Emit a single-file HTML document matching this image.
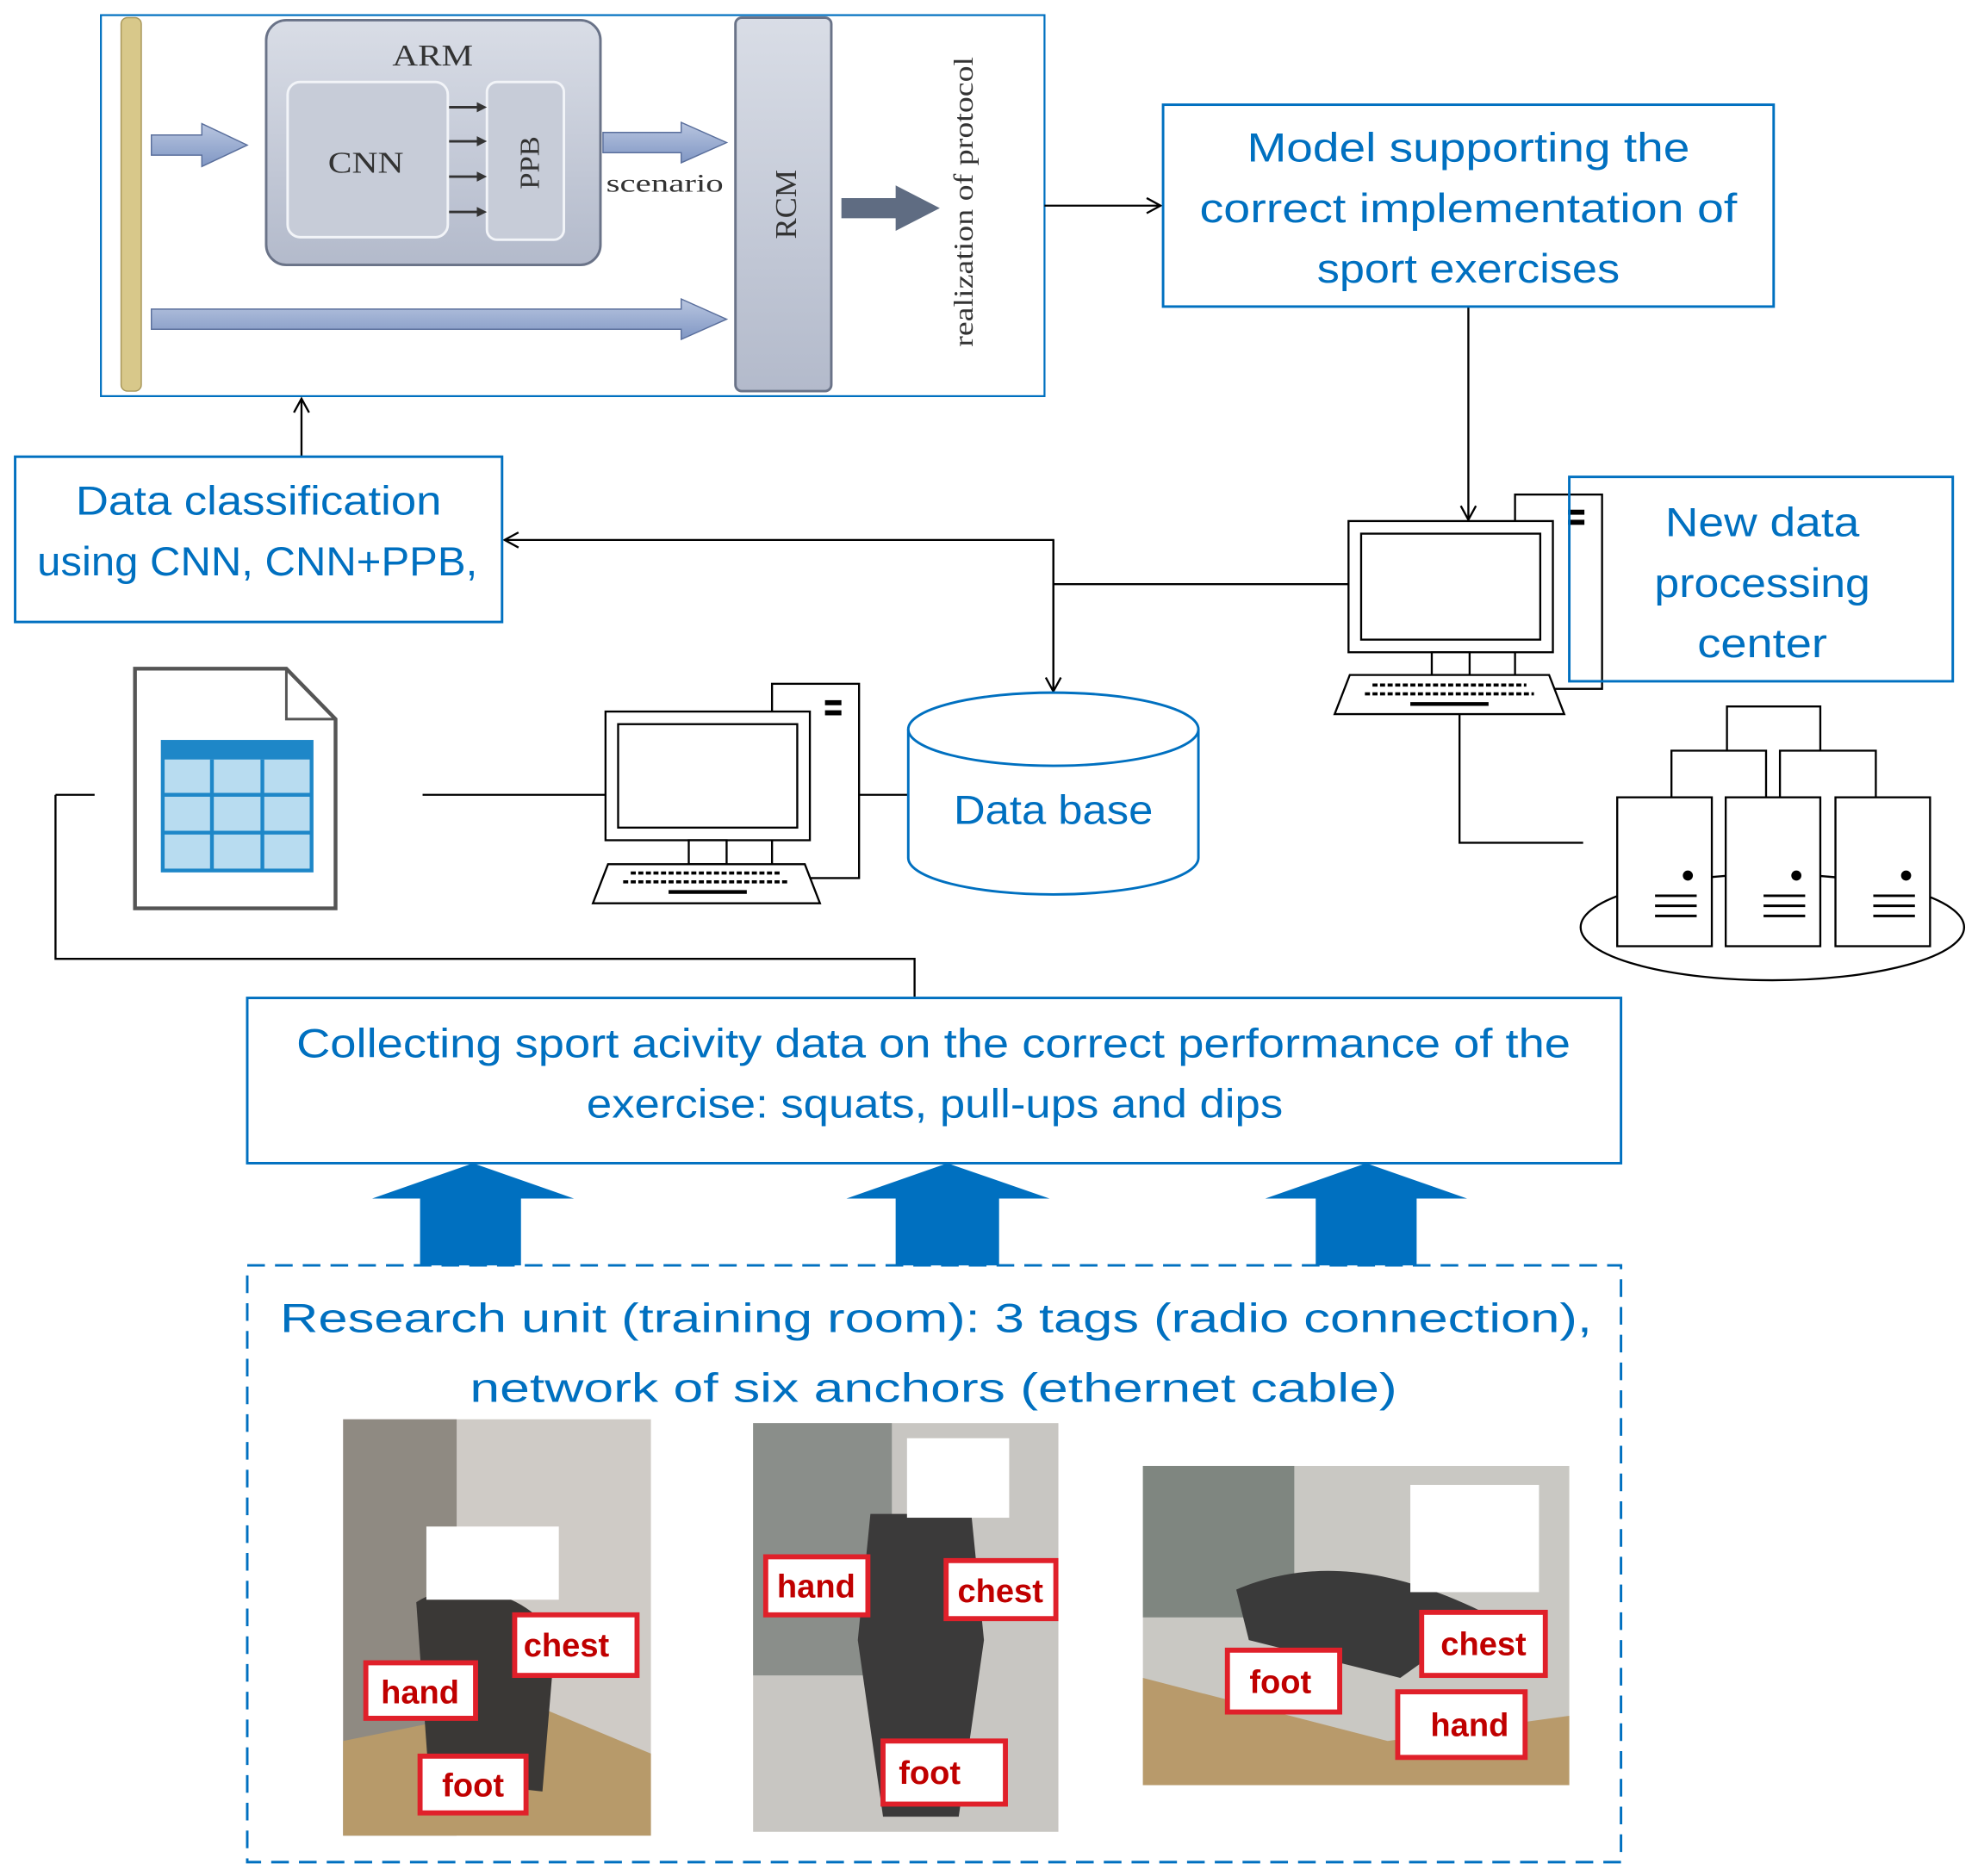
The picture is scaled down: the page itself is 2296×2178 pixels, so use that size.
<!DOCTYPE html>
<html><head><meta charset="utf-8"><style>
html,body{margin:0;padding:0;background:#fff}
svg{display:block}
text{font-family:"Liberation Sans",sans-serif}
.b{fill:#0070c0;font-size:32px;text-anchor:middle}
.s{font-family:"Liberation Serif",serif;fill:#333;text-anchor:middle}
.lab{fill:#c00000;font-size:26px;text-anchor:middle;font-weight:bold}
</style></head><body>
<svg width="2296" height="2178" viewBox="0 0 1568 1487" preserveAspectRatio="none" xmlns="http://www.w3.org/2000/svg">
<defs>
<marker id="ar" markerWidth="14" markerHeight="14" refX="12" refY="7" orient="auto" markerUnits="userSpaceOnUse"><path d="M1,1 L12,7 L1,13" fill="none" stroke="#000" stroke-width="1.6"/></marker>
<linearGradient id="g1" x1="0" y1="0" x2="0" y2="1"><stop offset="0" stop-color="#d9dde6"/><stop offset="1" stop-color="#b3bacb"/></linearGradient>
<linearGradient id="ga" x1="0" y1="0" x2="0" y2="1"><stop offset="0" stop-color="#b9c6e0"/><stop offset="1" stop-color="#8097c4"/></linearGradient>
</defs>
<rect x="80" y="12" width="748" height="302" fill="#fff" stroke="#0070c0" stroke-width="1.5"/>
<rect x="96" y="14" width="16" height="296" rx="5" fill="#d8c88a" stroke="#a8975a"/>
<rect x="211" y="16" width="265" height="194" rx="16" fill="url(#g1)" stroke="#6a7388" stroke-width="2"/>
<text x="343" y="52" class="s" font-size="24" textLength="64" lengthAdjust="spacingAndGlyphs">ARM</text>
<rect x="228" y="65" width="127" height="123" rx="10" fill="#c7ccd8" stroke="#f2f4f8" stroke-width="2"/>
<rect x="386" y="65" width="61" height="125" rx="8" fill="#c7ccd8" stroke="#f2f4f8" stroke-width="2"/>
<text x="290" y="137" class="s" font-size="24" textLength="60" lengthAdjust="spacingAndGlyphs">CNN</text>
<text transform="translate(427,129) rotate(-90)" class="s" font-size="22" textLength="42" lengthAdjust="spacingAndGlyphs">PPB</text>
<g stroke="#333" stroke-width="2">
<line x1="356" y1="85" x2="380" y2="85"/><line x1="356" y1="112" x2="380" y2="112"/><line x1="356" y1="140" x2="380" y2="140"/><line x1="356" y1="168" x2="380" y2="168"/></g>
<g fill="#333"><path d="M378,81 L386,85 L378,89z"/><path d="M378,108 L386,112 L378,116z"/><path d="M378,136 L386,140 L378,144z"/><path d="M378,164 L386,168 L378,172z"/></g>
<g fill="url(#ga)" stroke="#5a6f9c" stroke-width="1">
<path d="M120,107 H160 V98 L196,115 L160,132 V123 H120z"/>
<path d="M478,105 H540 V97 L576,113 L540,129 V121 H478z"/>
<path d="M120,245 H540 V237 L576,253 L540,269 V261 H120z"/>
</g>
<path d="M667,157 H710 V147 L745,165 L710,183 V173 H667z" fill="#5f6c82"/>
<text x="527" y="152" class="s" font-size="20" textLength="93" lengthAdjust="spacingAndGlyphs">scenario</text>
<rect x="583" y="14" width="76" height="296" rx="5" fill="url(#g1)" stroke="#6a7388" stroke-width="2"/>
<text transform="translate(631,162) rotate(-90)" class="s" font-size="24" textLength="55" lengthAdjust="spacingAndGlyphs">RCM</text>
<text transform="translate(771,160) rotate(-90)" class="s" font-size="22" textLength="230" lengthAdjust="spacingAndGlyphs">realization of protocol</text>
<g stroke="#000" stroke-width="1.6" fill="none">
<line x1="828" y1="163" x2="920" y2="163" marker-end="url(#ar)"/>
<line x1="1164" y1="243" x2="1164" y2="412" marker-end="url(#ar)"/>
<line x1="239" y1="362" x2="239" y2="316" marker-end="url(#ar)"/>
<polyline points="835,548 835,428 400,428" marker-end="url(#ar)"/>
<line x1="835" y1="428" x2="835" y2="548" marker-end="url(#ar)"/>
<line x1="835" y1="463" x2="1069" y2="463"/>
<polyline points="1157,566 1157,668 1255,668"/>
<line x1="44" y1="630" x2="75" y2="630"/>
<polyline points="44,630 44,760 725,760 725,790"/>
<line x1="335" y1="630" x2="480" y2="630"/>
<line x1="681" y1="630" x2="720" y2="630"/>
</g>
<rect x="922" y="83" width="484" height="160" fill="#fff" stroke="#0070c0" stroke-width="2"/>
<text x="1164" y="128" class="b" textLength="351" lengthAdjust="spacingAndGlyphs">Model supporting the</text>
<text x="1164" y="176" class="b" textLength="426" lengthAdjust="spacingAndGlyphs">correct implementation of</text>
<text x="1164" y="224" class="b" textLength="240" lengthAdjust="spacingAndGlyphs">sport exercises</text>
<rect x="12" y="362" width="386" height="131" fill="#fff" stroke="#0070c0" stroke-width="2"/>
<text x="205" y="408" class="b" textLength="290" lengthAdjust="spacingAndGlyphs">Data classification</text>
<text x="204" y="456" class="b" textLength="349" lengthAdjust="spacingAndGlyphs">using CNN, CNN+PPB,</text>
<g stroke="#000" stroke-width="1.6" fill="#fff">
<rect x="1201" y="392" width="69" height="154"/>
<rect x="1069" y="413" width="162" height="104"/>
<rect x="1079" y="423" width="142" height="84"/>
<rect x="1135" y="517" width="30" height="18"/>
<path d="M1070,535 H1228 L1240,566 H1058z"/>
</g>
<rect x="1243" y="404" width="13" height="4" fill="#000"/><rect x="1243" y="412" width="13" height="4" fill="#000"/>
<g stroke="#000" stroke-width="2.5" stroke-dasharray="4,2"><line x1="1088" y1="543" x2="1210" y2="543"/><line x1="1082" y1="550" x2="1216" y2="550"/></g>
<line x1="1118" y1="558" x2="1180" y2="558" stroke="#000" stroke-width="3"/>
<rect x="1244" y="378" width="304" height="162" fill="none" stroke="#0070c0" stroke-width="2"/>
<text x="1397" y="425" class="b" textLength="154" lengthAdjust="spacingAndGlyphs">New data</text>
<text x="1397" y="473" class="b" textLength="171" lengthAdjust="spacingAndGlyphs">processing</text>
<text x="1397" y="521" class="b" textLength="103" lengthAdjust="spacingAndGlyphs">center</text>
<g stroke="#000" stroke-width="1.6" fill="#fff">
<ellipse cx="1405" cy="735" rx="152" ry="42"/>
<polyline points="1369,595 1369,560 1443,560 1443,595"/>
<polyline points="1325,632 1325,595 1400,595 1400,632"/>
<polyline points="1411,632 1411,595 1487,595 1487,632"/>
<rect x="1282" y="632" width="75" height="118"/>
<rect x="1368" y="632" width="75" height="118"/>
<rect x="1455" y="632" width="75" height="118"/>
</g>
<g fill="#000"><circle cx="1338" cy="694" r="4"/><circle cx="1424" cy="694" r="4"/><circle cx="1511" cy="694" r="4"/></g>
<g stroke="#000" stroke-width="2">
<path d="M1312,710 H1345 M1312,718 H1345 M1312,726 H1345"/>
<path d="M1398,710 H1431 M1398,718 H1431 M1398,726 H1431"/>
<path d="M1485,710 H1518 M1485,718 H1518 M1485,726 H1518"/></g>
<path d="M107,530 H227 L266,570 V720 H107z" fill="#fff" stroke="#555" stroke-width="3"/>
<path d="M227,530 V570 H266" fill="none" stroke="#555" stroke-width="2"/>
<rect x="129" y="588" width="118" height="102" fill="#b8dcf0" stroke="#1e87c8" stroke-width="3"/>
<rect x="129" y="588" width="118" height="14" fill="#1e87c8"/>
<g stroke="#1e87c8" stroke-width="3"><line x1="168" y1="602" x2="168" y2="690"/><line x1="208" y1="602" x2="208" y2="690"/><line x1="129" y1="630" x2="247" y2="630"/><line x1="129" y1="660" x2="247" y2="660"/></g>
<g stroke="#000" stroke-width="1.6" fill="#fff">
<rect x="612" y="542" width="69" height="154"/>
<rect x="480" y="564" width="162" height="102"/>
<rect x="490" y="574" width="142" height="82"/>
<rect x="546" y="666" width="30" height="19"/>
<path d="M482,685 H638 L650,716 H470z"/>
</g>
<rect x="654" y="555" width="13" height="4" fill="#000"/><rect x="654" y="563" width="13" height="4" fill="#000"/>
<g stroke="#000" stroke-width="2.5" stroke-dasharray="4,2"><line x1="500" y1="692" x2="620" y2="692"/><line x1="494" y1="699" x2="626" y2="699"/></g>
<line x1="530" y1="707" x2="592" y2="707" stroke="#000" stroke-width="3"/>
<path d="M720,578 V680 A115,29 0 0 0 950,680 V578" fill="#fff" stroke="#0070c0" stroke-width="2"/>
<ellipse cx="835" cy="578" rx="115" ry="29" fill="#fff" stroke="#0070c0" stroke-width="2"/>
<text x="835" y="653" class="b" textLength="158" lengthAdjust="spacingAndGlyphs">Data base</text>
<rect x="196" y="791" width="1089" height="131" fill="#fff" stroke="#0070c0" stroke-width="2"/>
<text x="740" y="838" class="b" textLength="1010" lengthAdjust="spacingAndGlyphs">Collecting sport acivity data on the correct performance of the</text>
<text x="741" y="886" class="b" textLength="552" lengthAdjust="spacingAndGlyphs">exercise: squats, pull-ups and dips</text>
<g fill="#0070c0">
<path d="M333,1003 V950 H295 L375,922 L455,950 H413 V1003z"/>
<path d="M710,1003 V950 H671 L751,922 L832,950 H792 V1003z"/>
<path d="M1043,1003 V950 H1003 L1083,922 L1163,950 H1123 V1003z"/>
</g>
<rect x="196" y="1003" width="1089" height="473" fill="none" stroke="#0070c0" stroke-width="2" stroke-dasharray="14,8"/>
<text x="742" y="1056" class="b" font-size="40" textLength="1040" lengthAdjust="spacingAndGlyphs">Research unit (training room): 3 tags (radio connection),</text>
<text x="740" y="1111" class="b" font-size="40" textLength="735" lengthAdjust="spacingAndGlyphs">network of six anchors  (ethernet cable)</text>
<rect x="272" y="1125" width="244" height="330" fill="#cfcbc6"/>
<rect x="272" y="1125" width="90" height="330" fill="#8f8a82"/>
<path d="M272,1380 L420,1350 L516,1390 V1455 H272z" fill="#b79a6a"/>
<path d="M330,1270 C360,1250 420,1260 440,1300 L430,1420 L340,1410z" fill="#3a3836"/>
<rect x="597" y="1128" width="242" height="324" fill="#c8c6c2"/>
<rect x="597" y="1128" width="110" height="200" fill="#8a8e8a"/>
<path d="M690,1200 H770 L780,1300 L760,1440 H700 L680,1300z" fill="#3b3a3a"/>
<rect x="906" y="1162" width="338" height="253" fill="#c9c8c3"/>
<rect x="906" y="1162" width="120" height="120" fill="#7f8680"/>
<path d="M906,1330 L1100,1380 L1244,1360 V1415 H906z" fill="#b89a6b"/>
<path d="M980,1260 C1050,1230 1120,1250 1180,1280 L1110,1330 L990,1300z" fill="#3a3a3a"/>
<g fill="#fff">
<rect x="338" y="1210" width="105" height="58"/><rect x="719" y="1140" width="81" height="63"/><rect x="1118" y="1177" width="102" height="85"/></g>
<g fill="#fff" stroke="#e0202a" stroke-width="4">
<rect x="408" y="1280" width="97" height="48"/><rect x="290" y="1318" width="87" height="44"/><rect x="333" y="1392" width="84" height="45"/>
<rect x="607" y="1234" width="81" height="46"/><rect x="750" y="1237" width="87" height="46"/><rect x="700" y="1380" width="97" height="50"/>
<rect x="1127" y="1278" width="98" height="50"/><rect x="973" y="1308" width="89" height="49"/><rect x="1108" y="1341" width="101" height="52"/>
</g>
<text x="449" y="1313" class="lab">chest</text><text x="333" y="1350" class="lab">hand</text><text x="375" y="1424" class="lab">foot</text>
<text x="647" y="1266" class="lab">hand</text><text x="793" y="1270" class="lab">chest</text><text x="737" y="1414" class="lab">foot</text>
<text x="1176" y="1312" class="lab">chest</text><text x="1015" y="1342" class="lab">foot</text><text x="1165" y="1376" class="lab">hand</text>
</svg>
</body></html>
